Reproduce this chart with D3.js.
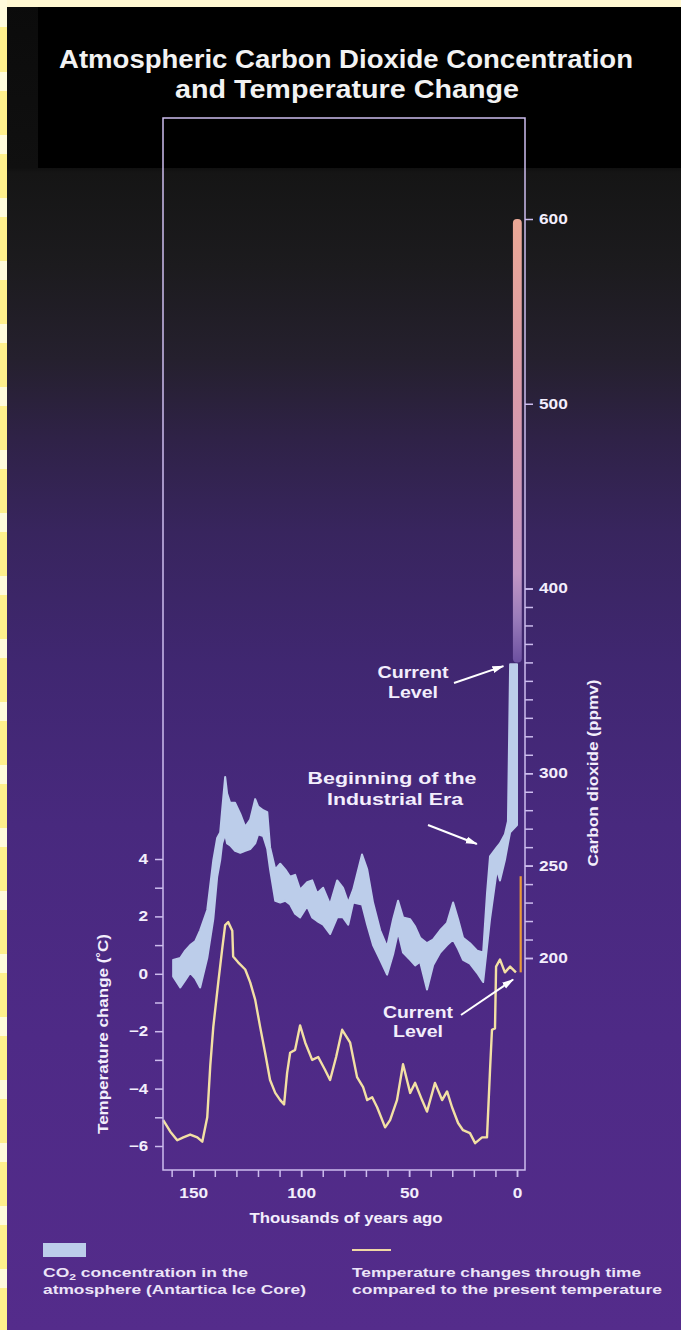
<!DOCTYPE html>
<html><head><meta charset="utf-8">
<script src="https://cdn.jsdelivr.net/npm/d3@7"></script>
<style>
html,body{margin:0;padding:0;background:#000;}
svg{display:block;}
text{font-family:"Liberation Sans",Arial,Helvetica,sans-serif;font-weight:bold;}
</style></head><body>
<svg id="c" width="681" height="1330"></svg>
<script>
// ---------- data ----------
const co2Kyr  = [159.3,156.0,153.7,151.4,149.1,146.8,143.5,140.7,138.9,137.5,136.6,135.2,134.3,132.9,130.6,128.2,125.9,123.6,121.3,119.9,117.6,115.7,114.4,112.0,109.7,107.4,105.1,102.8,100.5,97.2,94.9,92.6,89.8,86.6,83.3,80.6,78.2,75.9,71.8,69.4,66.7,63.4,60.2,57.4,55.1,52.8,49.5,47.2,44.9,41.7,38.9,35.6,32.4,29.6,27.3,25.0,21.8,18.5,15.7,13.9,12.5,9.3,7.9,5.6,4.2,3.2,0];
const co2Low  = [190,184,188,192,189,184,200,221,244,253,262,267,262,261,258,257,258,259,262,267,266,259,248,231,230,231,229,224,222,228,222,220,218,213,222,222,218,230,229,218,207,199,191,202,214,203,199,196,198,183,196,203,207,210,205,199,197,192,187,206,221,248,242,253,262,268,272];
const co2High = [199,200,204,207,209,215,226,253,265,268,280,298,289,284,284,278,271,275,286,282,280,279,260,248,251,248,244,245,237,241,242,235,238,229,242,238,230,237,256,248,230,215,206,221,231,222,221,217,211,208,210,215,219,230,221,211,208,204,203,235,255,260,262,267,274,359,359];

const tempKyr = [163.9,160.6,157.4,154.6,151.4,148.1,145.8,143.5,142.1,140.7,138.4,136.6,135.2,133.8,131.9,131.5,129.2,125.9,123.6,121.3,119.0,116.7,114.4,112.0,109.7,107.9,106.5,105.1,102.8,100.5,98.1,94.9,92.1,88.9,86.6,83.8,81.0,77.3,74.1,71.3,69.4,67.1,64.8,61.1,58.8,55.6,52.8,49.5,47.2,44.0,41.7,38.0,34.7,32.4,30.1,27.3,25.0,21.8,19.4,16.2,13.9,12.5,11.6,10.2,9.7,7.9,5.6,3.2,0.5];
const tempVal = [-5.1,-5.5,-5.8,-5.7,-5.6,-5.7,-5.85,-5.0,-3.2,-1.85,-0.3,0.85,1.7,1.8,1.5,0.6,0.4,0.15,-0.3,-0.9,-1.85,-2.75,-3.7,-4.15,-4.4,-4.55,-3.45,-2.75,-2.65,-1.8,-2.4,-3.0,-2.9,-3.35,-3.7,-2.9,-1.95,-2.4,-3.6,-3.95,-4.4,-4.3,-4.65,-5.35,-5.1,-4.4,-3.15,-4.15,-3.8,-4.4,-4.8,-3.8,-4.4,-4.1,-4.65,-5.2,-5.45,-5.55,-5.9,-5.7,-5.7,-3.35,-1.95,-1.9,0.25,0.5,0.05,0.25,0.05];

const co2ProjKyr = [1.9, -2.2];     // projected CO2 column
const co2Proj = [360, 600];         // ppmv
const tempProjKyr = -1.7;
const tempProj = [0.05, 3.4];       // degC

const xMajor = [150, 100, 50, 0];
const xMinor = d3.range(160, -1, -10);
const tMajor = [-6, -4, -2, 0, 2, 4];
const tMinor = [-5, -3, -1, 1, 3];
const cMajor = [200, 250, 300, 400, 500, 600];
const cMinor = d3.range(200, 401, 10);

// ---------- layout ----------
const W = 681, H = 1330;
const F = {l: 163, r: 525, t: 118, b: 1170};
const x  = d3.scaleLinear().domain([164, -3.7]).range([F.l, F.r]);
const yT = d3.scaleLinear().domain([-6, 4]).range([1146, 859]);
const yC = d3.scaleLinear().domain([200, 600]).range([958, 219]);
const txt = "#f3eefc";

const svg = d3.select("#c");
const defs = svg.append("defs");
function fit(sel, len) { return sel.attr("textLength", len).attr("lengthAdjust", "spacingAndGlyphs"); }

// background gradient
const bg = defs.append("linearGradient").attr("id", "bg")
  .attr("x1", 0).attr("y1", 0).attr("x2", 0).attr("y2", 1);
[[0,"#0b0b0b"],[0.126,"#101010"],[0.13,"#151515"],[0.2,"#1c1b1e"],[0.27,"#25202e"],
 [0.33,"#2f2247"],[0.4,"#38255e"],[0.5,"#402771"],[0.62,"#48297e"],[0.78,"#4e2a86"],[1,"#542c8b"]]
 .forEach(s => bg.append("stop").attr("offset", s[0]).attr("stop-color", s[1]));

svg.append("rect").attr("width", W).attr("height", H).attr("fill", "url(#bg)");
svg.append("rect").attr("x", 38).attr("y", 7).attr("width", W - 38).attr("height", 161).attr("fill", "#000");

// yellow page edges
svg.append("rect").attr("x", 0).attr("y", 0).attr("width", W).attr("height", 7).attr("fill", "#fff8d2");
const stripe = svg.append("g");
stripe.append("rect").attr("x", 0).attr("y", 0).attr("width", 7).attr("height", H).attr("fill", "#fff08c");
d3.range(7, H, 63).forEach(y0 => {
  stripe.append("rect").attr("x", 0).attr("y", y0 + 65).attr("width", 7).attr("height", 19).attr("fill", "#fffbdc");
});
stripe.append("rect").attr("x", 0).attr("y", 0).attr("width", 7).attr("height", 27).attr("fill", "#fffbdc");

// title
fit(svg.append("text").attr("x", 346).attr("y", 68).attr("text-anchor", "middle").attr("fill", "#f2f2f2")
  .attr("font-size", 25).text("Atmospheric Carbon Dioxide Concentration"), 574);
fit(svg.append("text").attr("x", 347).attr("y", 98).attr("text-anchor", "middle").attr("fill", "#f2f2f2")
  .attr("font-size", 25).text("and Temperature Change"), 344);

// projection gradient
const pg = defs.append("linearGradient").attr("id", "proj").attr("gradientUnits", "userSpaceOnUse")
  .attr("x1", 0).attr("x2", 0).attr("y1", yC(600)).attr("y2", yC(360));
[[0,"#eba896"],[0.42,"#d99aab"],[0.8,"#c296c4"],[0.9,"#9a7cba"],[1,"#6c50a0"]]
 .forEach(s => pg.append("stop").attr("offset", s[0]).attr("stop-color", s[1]));

// arrow marker
defs.append("marker").attr("id", "ah").attr("viewBox", "0 0 12 8").attr("refX", 11).attr("refY", 4)
  .attr("markerWidth", 12).attr("markerHeight", 8).attr("markerUnits", "userSpaceOnUse").attr("orient", "auto")
  .append("path").attr("d", "M0,0.5 L12,4 L0,7.5 Z").attr("fill", "#ffffff");

// CO2 band
const co2 = co2Kyr.map((k, i) => ({k, lo: co2Low[i], hi: co2High[i]}));
svg.append("path").datum(co2)
  .attr("d", d3.area().x(d => x(d.k)).y0(d => yC(d.lo)).y1(d => yC(d.hi)))
  .attr("fill", "#bccdea").attr("stroke", "#bccdea").attr("stroke-width", 2).attr("stroke-linejoin", "round");

// projected CO2 column
svg.append("rect").attr("x", x(co2ProjKyr[0])).attr("width", x(co2ProjKyr[1]) - x(co2ProjKyr[0]))
  .attr("y", yC(co2Proj[1])).attr("height", yC(co2Proj[0]) - yC(co2Proj[1]))
  .attr("rx", 4).attr("fill", "url(#proj)");

// temperature line
const temp = tempKyr.map((k, i) => ({k, t: tempVal[i]}));
svg.append("path").datum(temp)
  .attr("d", d3.line().x(d => x(d.k)).y(d => yT(d.t)))
  .attr("fill", "none").attr("stroke", "#f3e0a4").attr("stroke-width", 2.4).attr("stroke-linejoin", "round");
svg.append("line").attr("x1", x(tempProjKyr)).attr("x2", x(tempProjKyr))
  .attr("y1", yT(tempProj[0])).attr("y2", yT(tempProj[1]))
  .attr("stroke", "#e99a3a").attr("stroke-width", 2.2);

// frame
const axisCol = "#cdbdee";
svg.append("rect").attr("x", F.l).attr("y", F.t).attr("width", F.r - F.l).attr("height", F.b - F.t)
  .attr("fill", "none").attr("stroke", axisCol).attr("stroke-width", 1.5);

function styleAxis(g) {
  g.select(".domain").remove();
  g.selectAll(".tick line").attr("stroke", axisCol).attr("stroke-width", 1.5);
  g.selectAll(".tick text").attr("fill", txt).attr("font-size", 14)
    .attr("font-family", "'Liberation Sans',Arial,sans-serif").attr("font-weight", "bold")
    .each(function() { if (this.textContent) fit(d3.select(this), this.textContent.length * 9.6); });
}
// bottom axis
svg.append("g").attr("transform", `translate(0,${F.b})`)
  .call(d3.axisBottom(x).tickValues(xMinor).tickSize(7).tickFormat("")).call(styleAxis);
svg.append("g").attr("transform", `translate(0,${F.b})`)
  .call(d3.axisBottom(x).tickValues(xMajor).tickSize(7).tickPadding(11).tickFormat(d3.format("d"))).call(styleAxis);
// left axis
svg.append("g").attr("transform", `translate(${F.l},0)`)
  .call(d3.axisLeft(yT).tickValues(tMinor).tickSize(8).tickFormat("")).call(styleAxis);
svg.append("g").attr("transform", `translate(${F.l},0)`)
  .call(d3.axisLeft(yT).tickValues(tMajor).tickSize(8).tickPadding(7).tickFormat(d3.format("d"))).call(styleAxis);
// right axis
svg.append("g").attr("transform", `translate(${F.r},0)`)
  .call(d3.axisRight(yC).tickValues(cMinor).tickSize(8).tickFormat("")).call(styleAxis);
svg.append("g").attr("transform", `translate(${F.r},0)`)
  .call(d3.axisRight(yC).tickValues(cMajor).tickSize(8).tickPadding(6).tickFormat(d3.format("d"))).call(styleAxis);

// axis titles
fit(svg.append("text").attr("x", 346).attr("y", 1223).attr("text-anchor", "middle")
  .attr("fill", txt).attr("font-size", 14).text("Thousands of years ago"), 193);
fit(svg.append("text").attr("transform", "translate(108,1034) rotate(-90)").attr("text-anchor", "middle")
  .attr("fill", txt).attr("font-size", 14).text("Temperature change (˚C)"), 200);
fit(svg.append("text").attr("transform", "translate(598,773) rotate(-90)").attr("text-anchor", "middle")
  .attr("fill", txt).attr("font-size", 14).text("Carbon dioxide (ppmv)"), 187);

// annotations
function note(cx, y, s, len) {
  fit(svg.append("text").attr("x", cx).attr("y", y).attr("text-anchor", "middle").attr("fill", txt)
    .attr("font-size", 16).text(s), len);
}
function arrow(x1, y1, x2, y2) {
  svg.append("line").attr("x1", x1).attr("y1", y1).attr("x2", x2).attr("y2", y2)
    .attr("stroke", "#ffffff").attr("stroke-width", 2).attr("marker-end", "url(#ah)");
}
note(413, 678, "Current", 71);
note(413, 698, "Level", 50);
arrow(454, 683, x(6.3), yC(358));
note(392, 784, "Beginning of the", 169);
note(395, 805, "Industrial Era", 136);
arrow(428, 825, x(18.6), 844);
note(418, 1018, "Current", 70);
note(418, 1037, "Level", 50);
arrow(461, 1015, x(1.8), yT(-0.2));

// legend
svg.append("rect").attr("x", 43).attr("y", 1243).attr("width", 43).attr("height", 14).attr("fill", "#bccdea");
svg.append("line").attr("x1", 352).attr("x2", 391).attr("y1", 1250).attr("y2", 1250)
  .attr("stroke", "#f0d8a4").attr("stroke-width", 2.2);
const lgc = "#ece4f8";
const co2t = svg.append("text").attr("x", 43).attr("y", 1277).attr("fill", lgc).attr("font-size", 13);
co2t.append("tspan").text("CO");
co2t.append("tspan").attr("font-size", 9).attr("dy", 3).text("2");
co2t.append("tspan").attr("dy", -3).text(" concentration in the");
fit(co2t, 205);
fit(svg.append("text").attr("x", 43).attr("y", 1294).attr("fill", lgc).attr("font-size", 13)
  .text("atmosphere (Antartica Ice Core)"), 263);
fit(svg.append("text").attr("x", 352).attr("y", 1277).attr("fill", lgc).attr("font-size", 13)
  .text("Temperature changes through time"), 289);
fit(svg.append("text").attr("x", 352).attr("y", 1294).attr("fill", lgc).attr("font-size", 13)
  .text("compared to the present temperature"), 310);
</script>
</body></html>
